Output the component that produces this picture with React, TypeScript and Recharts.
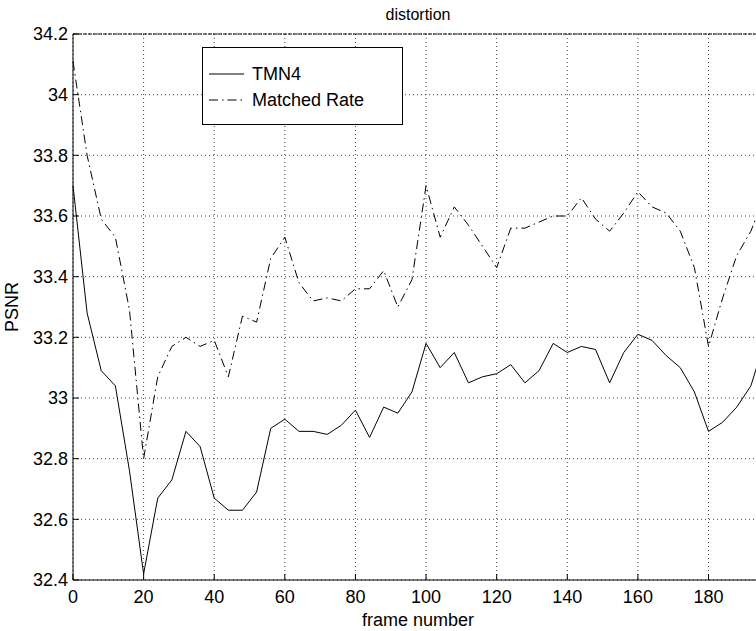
import { LineChart, Line, XAxis, YAxis, CartesianGrid, Legend } from 'recharts';

const frames = [
    0, 4, 8, 12, 16, 20, 24, 28, 32, 36, 40, 44, 48, 52, 56, 60, 64, 68, 72, 76, 80, 84, 88, 92, 96,
    100, 104, 108, 112, 116, 120, 124, 128, 132, 136, 140, 144, 148, 152, 156, 160, 164, 168, 172, 176,
    180, 184, 188, 192, 196,
];

const tmn4 = [
    33.7, 33.28, 33.09, 33.04, 32.76, 32.42, 32.67, 32.73, 32.89, 32.84, 32.67, 32.63, 32.63, 32.69, 32.9,
    32.93, 32.89, 32.89, 32.88, 32.91, 32.96, 32.87, 32.97, 32.95, 33.02, 33.18, 33.1, 33.15, 33.05, 33.07,
    33.08, 33.11, 33.05, 33.09, 33.18, 33.15, 33.17, 33.16, 33.05, 33.15, 33.21, 33.19, 33.14, 33.1, 33.02,
    32.89, 32.92, 32.97, 33.04, 33.19,
];

const matchedRate = [
    34.11, 33.8, 33.59, 33.53, 33.29, 32.8, 33.07, 33.17, 33.2, 33.17, 33.19, 33.07, 33.27, 33.25, 33.46,
    33.53, 33.38, 33.32, 33.33, 33.32, 33.36, 33.36, 33.42, 33.3, 33.39, 33.7, 33.53, 33.63, 33.57, 33.5,
    33.43, 33.56, 33.56, 33.58, 33.6, 33.6, 33.66, 33.59, 33.55, 33.61, 33.68, 33.63, 33.61, 33.55, 33.43,
    33.17, 33.33, 33.47, 33.55, 33.67,
];

const xTicks = [0, 20, 40, 60, 80, 100, 120, 140, 160, 180];
const yTicks = [32.4, 32.6, 32.8, 33, 33.2, 33.4, 33.6, 33.8, 34, 34.2];

const series = [
    { key: 'tmn4', name: 'TMN4', dash: undefined as string | undefined },
    { key: 'matched', name: 'Matched Rate', dash: '9 4 1.5 4' },
];

const data = frames.map((f, i) => ({ frame: f, tmn4: tmn4[i], matched: matchedRate[i] }));

const FONT = '"Liberation Sans", Arial, Helvetica, sans-serif';

const renderLegend = () => (
    <div
        style={{
            width: 201,
            height: 78,
            boxSizing: 'border-box',
            border: '1px solid #000',
            background: '#fff',
            fontFamily: FONT,
            fontSize: 18,
            color: '#000',
            position: 'relative',
        }}
    >
        {series.map((s, i) => (
            <div
                key={s.key}
                style={{ position: 'absolute', left: 6, top: 15 + i * 26, height: 22, display: 'flex', alignItems: 'center' }}
            >
                <svg width={36} height={10} style={{ marginRight: 7 }}>
                    <line x1={0} y1={5} x2={35} y2={5} stroke="#000" strokeWidth={1} strokeDasharray={s.dash} />
                </svg>
                <span>{s.name}</span>
            </div>
        ))}
    </div>
);

export default function App() {
    return (
        <div
            style={{
                position: 'fixed',
                left: 0,
                top: 0,
                width: 756,
                height: 631,
                overflow: 'hidden',
                background: '#fff',
            }}
        >
            <LineChart
                width={800}
                height={631}
                data={data}
                margin={{ top: 14, right: 35, bottom: 21, left: 0 }}
                style={{ fontFamily: FONT }}
            >
                <CartesianGrid stroke="#444" strokeDasharray="1 3" />
                <XAxis
                    dataKey="frame"
                    type="number"
                    domain={[0, 196]}
                    ticks={xTicks}
                    height={30}
                    tickSize={-6}
                    tickMargin={16}
                    tick={{ fill: '#000', fontSize: 18 }}
                    axisLine={{ stroke: '#000' }}
                    tickLine={{ stroke: '#000' }}
                    label={{
                        content: () => (
                            <text x={418} y={626} textAnchor="middle" fontSize={18} fill="#000" fontFamily={FONT}>
                                frame number
                            </text>
                        ),
                    }}
                />
                <XAxis
                    xAxisId="top"
                    orientation="top"
                    dataKey="frame"
                    type="number"
                    domain={[0, 196]}
                    ticks={xTicks}
                    height={20}
                    tickSize={-6}
                    tick={false}
                    axisLine={{ stroke: '#000', strokeDasharray: '4 1' }}
                    tickLine={{ stroke: '#000' }}
                    label={{
                        content: () => (
                            <text x={418} y={20} textAnchor="middle" fontSize={16} fill="#000" fontFamily={FONT}>
                                distortion
                            </text>
                        ),
                    }}
                />
                <YAxis
                    type="number"
                    domain={[32.4, 34.2]}
                    ticks={yTicks}
                    width={73}
                    tickSize={-6}
                    tickMargin={11}
                    tick={{ fill: '#000', fontSize: 18 }}
                    axisLine={{ stroke: '#000' }}
                    tickLine={{ stroke: '#000' }}
                    label={{
                        content: () => (
                            <text
                                x={0}
                                y={0}
                                textAnchor="middle"
                                fontSize={18}
                                fill="#000"
                                fontFamily={FONT}
                                transform="translate(18 307) rotate(-90)"
                            >
                                PSNR
                            </text>
                        ),
                    }}
                />
                <Legend
                    layout="horizontal"
                    verticalAlign="middle"
                    align="center"
                    content={renderLegend}
                    wrapperStyle={{ left: 202, top: 47, width: 201, height: 78 }}
                />
                {series.map((s) => (
                    <Line
                        key={s.key}
                        dataKey={s.key}
                        name={s.name}
                        stroke="#000"
                        strokeWidth={1}
                        strokeDasharray={s.dash}
                        dot={false}
                        activeDot={false}
                        isAnimationActive={false}
                    />
                ))}
            </LineChart>
        </div>
    );
}
